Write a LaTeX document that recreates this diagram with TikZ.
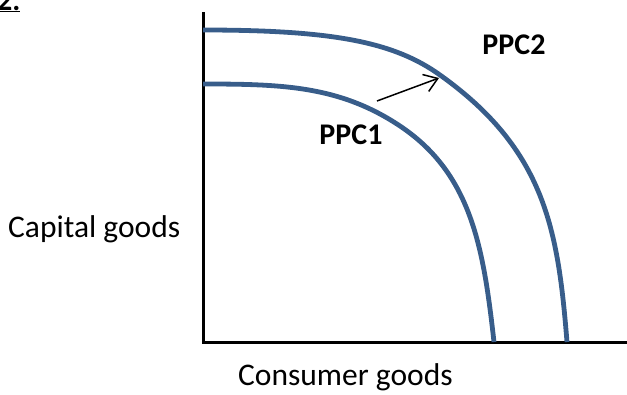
\documentclass[tikz,border=0pt]{standalone}
\usepackage{fontspec}
\setmainfont{Carlito}
\usetikzlibrary{arrows.meta}
\definecolor{ppcblue}{RGB}{56,93,138}
\tikzset{
  axis/.style={line width=3pt, black},
  ppc/.style={line width=4.8pt, ppcblue},
  shift arrow/.style={line width=1.5pt, black, -{Straight Barb[length=13pt,width=18pt,line width=1.5pt]}},
  axislabel/.style={font=\fontsize{31.5}{36}\selectfont, inner sep=0pt},
  curvelabel/.style={font=\fontsize{30}{34}\selectfont\bfseries, inner sep=0pt}
}
\begin{document}
\begin{tikzpicture}[x=1pt,y=-1pt]
  \useasboundingbox (0,0) rectangle (627,394);
  \clip (0,0) rectangle (627,394);

  % heading number, partly cut off at the top edge
  \node[anchor=base west, font=\fontsize{30}{34}\selectfont\bfseries, inner sep=0pt] (num) at (-3,10) {\underline{2.}};

  % axes
  \coordinate (origin) at (203,342);
  \coordinate (ytop) at (203,12);
  \coordinate (xend) at (627,342);
  \draw[axis] (ytop) -- (origin) -- (xend);

  % production possibility curves
  \draw[ppc] (203,30) .. controls (333,30) and (394,42) .. (440,75)
                      .. controls (545.6,150.2) and (558,230.4) .. (567,342);
  \draw[ppc] (203,84) .. controls (283,84) and (340,86) .. (400,126)
                      .. controls (472,174) and (483.5,249) .. (494,342);

  % outward shift
  \coordinate (shiftfrom) at (377,101);
  \coordinate (shiftto) at (439,78);
  \draw[shift arrow] (shiftfrom) -- (shiftto);

  % labels
  \node[curvelabel] (ppc1) at (351,135) {PPC1};
  \node[curvelabel] (ppc2) at (514,45) {PPC2};
  \node[axislabel, anchor=base west] (ylab) at (8,237) {Capital goods};
  \node[axislabel, anchor=base west] (xlab) at (238,385) {Consumer goods};
\end{tikzpicture}
\end{document}
